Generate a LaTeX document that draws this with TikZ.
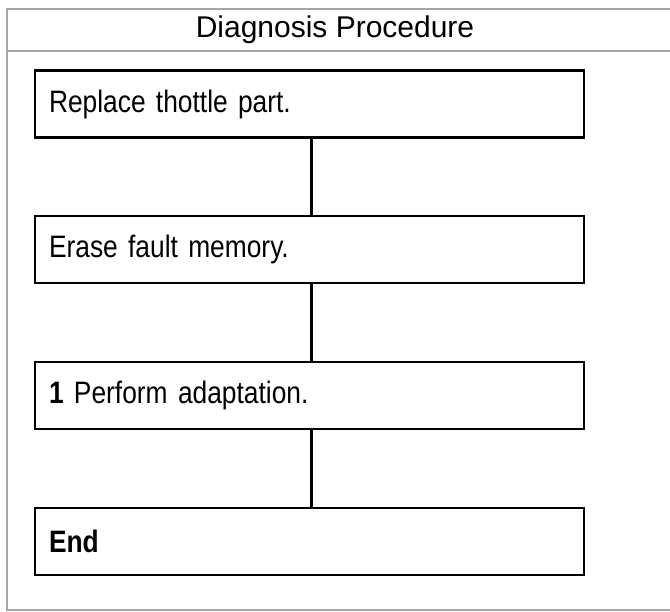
\documentclass[tikz,border=0pt]{standalone}
\usepackage{fontspec}
\setmainfont{Liberation Sans}
\newfontfamily\headfont{Liberation Sans}
\newfontfamily\stepfont[FakeStretch=0.85]{Liberation Sans}
\begin{document}
\begin{tikzpicture}[x=1pt,y=-1pt,
    frameline/.style ={draw=black!35, line width=1.5pt},
    stepbox/.style ={rectangle, draw, line width=2.8pt, minimum width=549pt, minimum height=67pt,
      text width=521pt, align=left, inner sep=14pt, font=\stepfont\fontsize{31}{34}\selectfont},
    link/.style ={line width=2.8pt}]
   \useasboundingbox (0,0) rectangle (670,612);
   % outer table frame
   \draw[frameline] (680,9) -- (7,9) -- (7,610) -- (680,610);
   \draw[frameline] (7,51) -- (680,51);
   \node[font=\headfont\fontsize{30}{32}\selectfont] (title) at (335,30) {Diagnosis Procedure};
   % steps
   \node[stepbox] (A)  at (309.5,104)  {Replace thottle part.};
   \node[stepbox] (B)  at (309.5,249.5)  {Erase fault memory.};
   \node[stepbox] (C)  at (309.5,395.5)  {\textbf{1} Perform adaptation.};
   \node[stepbox] (D)  at (309.5,541.5)  {\textbf{End}};
   \draw[link] ([xshift=2pt]A.south) -- ([xshift=2pt]B.north);
   \draw[link] ([xshift=2pt]B.south) -- ([xshift=2pt]C.north);
   \draw[link] ([xshift=2pt]C.south) -- ([xshift=2pt]D.north);
\end{tikzpicture}
\end{document}
